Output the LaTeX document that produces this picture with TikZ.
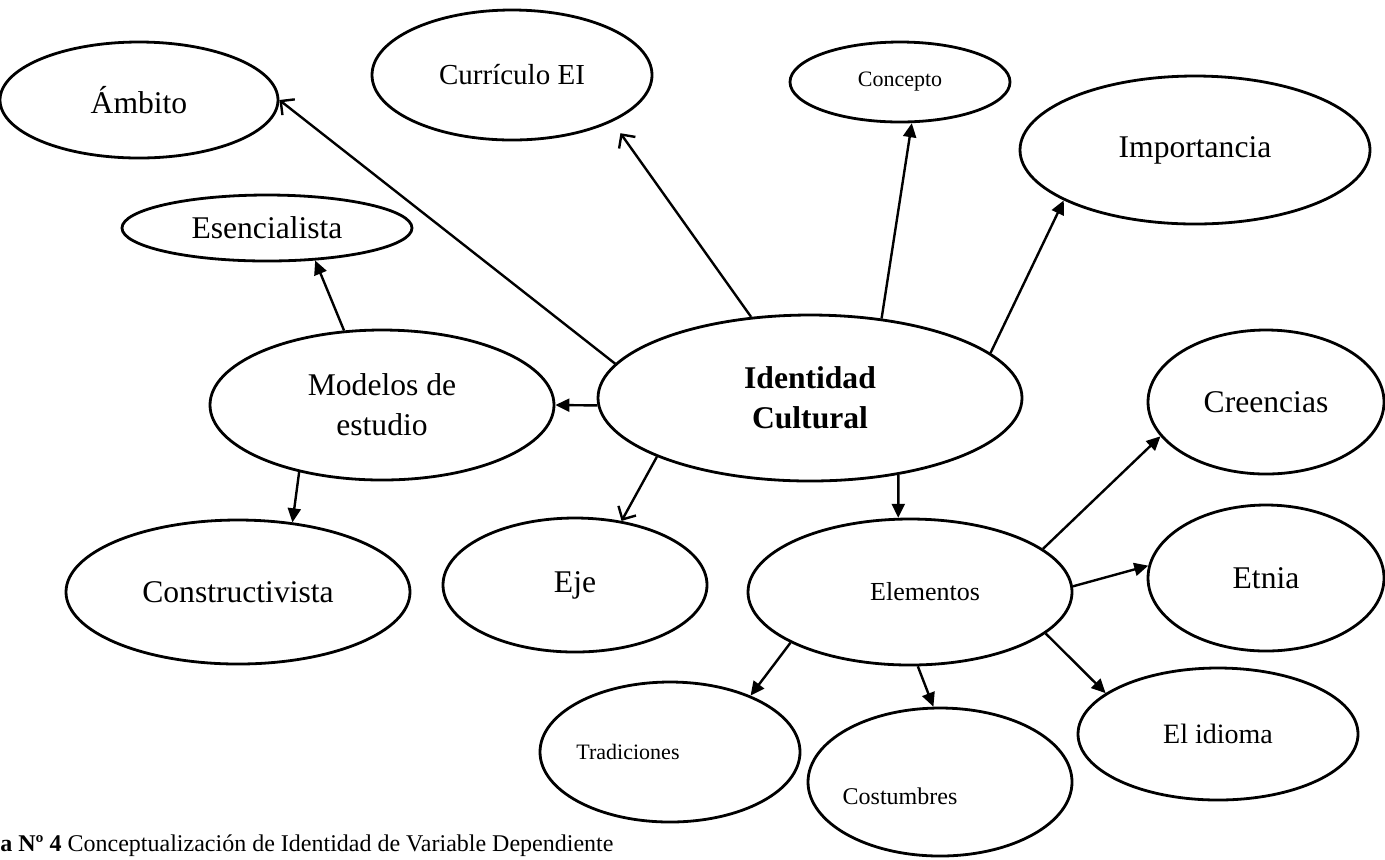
\documentclass[tikz,border=0pt]{standalone}
\usepackage{fontspec}
\setmainfont{Liberation Serif}
\usetikzlibrary{shapes.geometric,arrows.meta}

\begin{document}
\begin{tikzpicture}[x=0.5pt,y=-0.5pt,
    burbuja/.style={ellipse,draw,line width=1.4pt,inner sep=0pt,align=center,font=\fontsize{15.8}{20}\selectfont},
    flecha/.style={line width=1.2pt,-{Triangle[length=7pt,width=6.5pt]}},
    flechab/.style={line width=1.2pt,-{Straight Barb[length=5pt,width=10pt]}}]
    \useasboundingbox (0,0) rectangle (1385,859);
    \node[burbuja,minimum width=139pt,minimum height=58pt] (ambito) at (139,100) {Ámbito};
    \node[burbuja,minimum width=140pt,minimum height=65pt,font=\fontsize{14.5}{18}\selectfont] (curriculo) at (512,75) {Currículo EI};
    \node[burbuja,minimum width=110pt,minimum height=40pt,font=\fontsize{11}{14}\selectfont] (concepto) at (900,82) {Concepto};
    \node[burbuja,minimum width=175pt,minimum height=74pt] (importancia) at (1195,150) {Importancia};
    \node[burbuja,minimum width=145pt,minimum height=33pt] (esencial) at (267,228) {Esencialista};
    \node[burbuja,minimum width=172pt,minimum height=75pt] (modelos) at (382,405) {Modelos de\\estudio};
    \node[burbuja,minimum width=212pt,minimum height=83pt,font=\bfseries\fontsize{15.8}{20}\selectfont] (identidad) at (810,398) {Identidad\\Cultural};
    \node[burbuja,minimum width=118pt,minimum height=72pt] (creencias) at (1266,402) {Creencias};
    \node[burbuja,minimum width=172pt,minimum height=72pt] (construct) at (238,592) {Constructivista};
    \node[burbuja,minimum width=132pt,minimum height=67pt] (eje) at (575,585) {Eje};
    \node[burbuja,minimum width=162pt,minimum height=73pt,font=\fontsize{13}{16}\selectfont] (elementos) at (910,592) {\hspace*{15pt}Elementos};
    \node[burbuja,minimum width=118pt,minimum height=73pt] (etnia) at (1266,578) {Etnia};
    \node[burbuja,minimum width=130pt,minimum height=70pt,
        label={[font=\fontsize{11}{14}\selectfont,xshift=-21pt]center:Tradiciones}] (tradiciones) at (670,752) {};
    \node[burbuja,minimum width=132pt,minimum height=74pt,
        label={[font=\fontsize{12}{15}\selectfont,xshift=-20pt,yshift=-7pt]center:Costumbres}] (costumbres) at (940,782) {};
    \node[burbuja,minimum width=140pt,minimum height=66pt,font=\fontsize{14}{17}\selectfont] (idioma) at (1218,734) {El idioma};
    \node[anchor=base west,inner sep=0pt,font=\fontsize{12}{14}\selectfont] (pie) at (0,851) {\textbf{a Nº 4} Conceptualización de Identidad de Variable Dependiente};

    \draw[flechab] (identidad.170) -- (ambito.0);
    \draw[flechab,shorten >=7pt] (identidad.126) -- (curriculo.-25);
    \draw[flecha] (identidad.48) -- (concepto.-74);
    \draw[flecha] (identidad.14) -- (importancia.201);
    \draw[flecha] (identidad.182) -- (modelos.0);
    \draw[flechab] (identidad.201) -- (eje.54);
    \draw[flecha] (identidad.-41) -- (elementos.99);
    \draw[flecha] (modelos.117) -- (esencial.-34);
    \draw[flecha] (modelos.219) -- (construct.52);
    \draw[flecha] (elementos.18) -- (creencias.198);
    \draw[flecha] (elementos.2.5) -- (etnia.174);
    \draw[flecha] (elementos.-17) -- (idioma.160);
    \draw[flecha] (elementos.-84) -- (costumbres.95);
    \draw[flecha] (elementos.203) -- (tradiciones.35);
\end{tikzpicture}
\end{document}
